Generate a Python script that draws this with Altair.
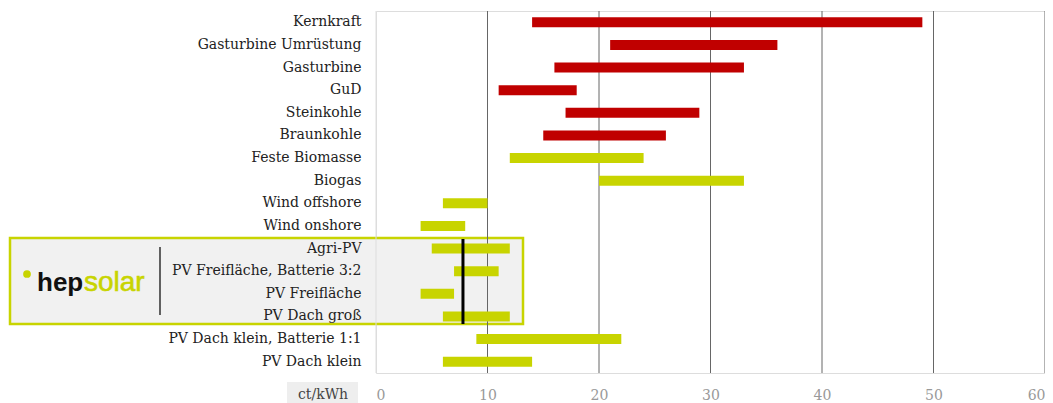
import altair as alt
import pandas as pd

categories = ["Kernkraft", "Gasturbine Umrüstung", "Gasturbine", "GuD", "Steinkohle",
              "Braunkohle", "Feste Biomasse", "Biogas", "Wind offshore", "Wind onshore",
              "Agri-PV", "PV Freifläche, Batterie 3:2", "PV Freifläche", "PV Dach groß",
              "PV Dach klein, Batterie 1:1", "PV Dach klein"]
low = [14, 21, 16, 11, 17, 15, 12, 20, 6, 4, 5, 7, 4, 6, 9, 6]
high = [49, 36, 33, 18, 29, 26, 24, 33, 10, 8, 12, 11, 7, 12, 22, 14]
group = ["konventionell"] * 6 + ["erneuerbar"] * 10
grid_ticks = [0, 10, 20, 30, 40, 50, 60]
hep_value = [7.8]

RED = "#c00000"
GREEN = "#c8d400"
LABEL_FONT = "DejaVu Serif"

df = pd.DataFrame({"Technologie": categories, "von": low, "bis": high, "Gruppe": group})
grid_df = pd.DataFrame({"v": grid_ticks})
hep_df = pd.DataFrame({"v": hep_value})

x_scale = alt.Scale(domain=[0, 60], nice=False, zero=True)

box = alt.Chart(hep_df).mark_rect(fill="#f1f1f1", stroke=GREEN, strokeWidth=2.5).encode(
    x=alt.value(-366), x2=alt.value(147), y=alt.value(227), y2=alt.value(313)
)

grid = alt.Chart(grid_df).mark_rule(strokeWidth=1).encode(
    x=alt.X("v:Q", scale=x_scale,
            axis=alt.Axis(title=None, values=grid_ticks, grid=False, domain=False, ticks=False,
                          labelColor="#999999", labelFont=LABEL_FONT, labelFontSize=14,
                          labelPadding=15)),
    color=alt.condition("datum.v === 0", alt.value("#dddddd"), alt.value("#666666")),
)

bars = alt.Chart(df).mark_bar(size=10).encode(
    y=alt.Y("Technologie:N", sort=categories,
            axis=alt.Axis(title=None, domain=False, ticks=False, labelFont=LABEL_FONT,
                          labelFontSize=14, labelColor="#222222", labelPadding=15,
                          labelLimit=400, zindex=1)),
    x=alt.X("von:Q", scale=x_scale),
    x2="bis:Q",
    color=alt.Color("Gruppe:N", scale=alt.Scale(domain=["konventionell", "erneuerbar"],
                                                range=[RED, GREEN]), legend=None),
)

hep_rule = alt.Chart(hep_df).mark_rule(color="black", strokeWidth=3).encode(
    x=alt.X("v:Q", scale=x_scale), y=alt.value(228), y2=alt.value(313)
)

sep = alt.Chart(hep_df).mark_rule(color="black", strokeWidth=1.2).encode(
    x=alt.value(-216), y=alt.value(236), y2=alt.value(304)
)

logo_dot = alt.Chart(hep_df).mark_circle(color=GREEN, opacity=1, size=60).encode(
    x=alt.value(-349), y=alt.value(263)
)
logo_hep = alt.Chart(hep_df).mark_text(text="hep", font="Liberation Sans", fontWeight="bold",
                                       fontSize=26, color="#111111", align="left",
                                       baseline="alphabetic").encode(
    x=alt.value(-339), y=alt.value(280)
)
logo_solar = alt.Chart(hep_df).mark_text(text="solar", font="Liberation Sans", fontSize=28,
                                         color=GREEN, align="left", baseline="alphabetic",
                                         stroke=GREEN, strokeWidth=0.6).encode(
    x=alt.value(-292), y=alt.value(280)
)

unit_box = alt.Chart(hep_df).mark_rect(fill="#eeeeee").encode(
    x=alt.value(-89), x2=alt.value(-18), y=alt.value(371), y2=alt.value(392)
)
unit_text = alt.Chart(hep_df).mark_text(text="ct/kWh", font=LABEL_FONT, fontSize=14,
                                        color="#444444", align="center", baseline="middle").encode(
    x=alt.value(-53), y=alt.value(384)
)

chart = alt.layer(box, grid, bars, hep_rule, sep, logo_dot, logo_hep, logo_solar,
                  unit_box, unit_text).properties(
    width=669, height=362,
    autosize=alt.AutoSizeParams(type="none"),
    padding={"left": 368, "top": 3, "right": 0, "bottom": 30},
).configure_view(stroke=None).configure(background="white")

chart.save("out.html", embed_options={"renderer": "svg", "actions": False})
